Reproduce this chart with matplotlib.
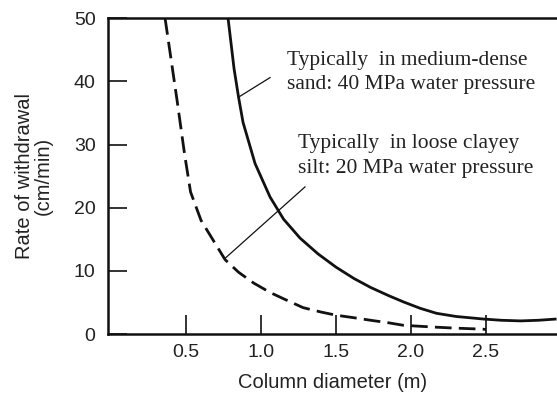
import matplotlib
matplotlib.use("Agg")
import matplotlib.pyplot as plt

# Solid curve: medium-dense sand, 40 MPa
sand_x = [0.78, 0.82, 0.85, 0.88, 0.96, 1.06, 1.15, 1.26, 1.38, 1.50, 1.62, 1.73, 1.85, 1.95, 2.06, 2.17, 2.30, 2.48, 2.60, 2.73, 2.85, 2.97]
sand_y = [50.0, 42.0, 37.5, 33.5, 27.0, 21.7, 18.2, 15.2, 12.7, 10.6, 8.8, 7.4, 6.1, 5.1, 4.1, 3.3, 2.8, 2.4, 2.2, 2.1, 2.2, 2.4]

# Dashed curve: loose clayey silt, 20 MPa
silt_x = [0.36, 0.40, 0.44, 0.49, 0.53, 0.60, 0.68, 0.76, 0.85, 0.95, 1.06, 1.15, 1.28, 1.40, 1.50, 1.62, 1.73, 1.85, 1.95, 2.06, 2.17, 2.30, 2.47, 2.50]
silt_y = [50.0, 43.5, 37.0, 28.5, 22.5, 18.0, 14.9, 11.8, 9.8, 8.1, 6.6, 5.6, 4.2, 3.5, 3.0, 2.6, 2.2, 1.8, 1.4, 1.25, 1.1, 0.95, 0.8, 0.75]

x_ticks = [0.5, 1.0, 1.5, 2.0, 2.5]
x_tick_labels = ["0.5", "1.0", "1.5", "2.0", "2.5"]
y_ticks = [0, 10, 20, 30, 40, 50]
y_tick_labels = ["0", "10", "20", "30", "40", "50"]

label_sand = "Typically  in medium-dense\nsand: 40 MPa water pressure"
label_silt = "Typically  in loose clayey\nsilt: 20 MPa water pressure"

fig = plt.figure(figsize=(5.57, 3.95), dpi=100)
ax = fig.add_axes([0.194, 0.154, 0.806, 0.800])

ax.plot(sand_x, sand_y, color="#111111", lw=2.0, solid_capstyle="butt")
ax.plot(silt_x, silt_y, color="#111111", lw=2.0, dashes=(6, 2.6))

ax.set_xlim(-0.02, 2.973)
ax.set_ylim(0, 50)

for s in ["left", "bottom", "top"]:
    ax.spines[s].set_linewidth(1.8)
    ax.spines[s].set_color("#111111")
ax.spines["right"].set_visible(False)

ax.set_xticks(x_ticks)
ax.set_xticklabels(x_tick_labels)
ax.set_yticks(y_ticks)
ax.set_yticklabels(y_tick_labels)
ax.tick_params(axis="both", direction="in", length=14, width=1.2, colors="#111111",
               labelsize=14, labelcolor="#222222")
ax.tick_params(axis="x", pad=7)
ax.tick_params(axis="y", pad=9)
for lab in ax.get_xticklabels() + ax.get_yticklabels():
    lab.set_family("Liberation Sans")

ax.set_xlabel("Column diameter (m)", fontsize=14.5, family="Liberation Sans", color="#222222", labelpad=9)
ax.set_ylabel("Rate of withdrawal\n(cm/min)", fontsize=14.5, family="Liberation Sans", color="#222222",
              labelpad=15, linespacing=1.0)

# leader lines
ax.plot([0.85, 1.06], [37.5, 40.6], color="#111111", lw=0.9)
ax.plot([0.76, 1.293], [12.0, 23.3], color="#111111", lw=0.9)

# annotation texts
ax.text(1.173, 41.4, label_sand, fontsize=15.5, family="Liberation Serif", color="#222222",
        va="center", ha="left", linespacing=1.38)
ax.text(1.247, 28.2, label_silt, fontsize=15.5, family="Liberation Serif", color="#222222",
        va="center", ha="left", linespacing=1.38)

fig.savefig("out.png", dpi=100)
